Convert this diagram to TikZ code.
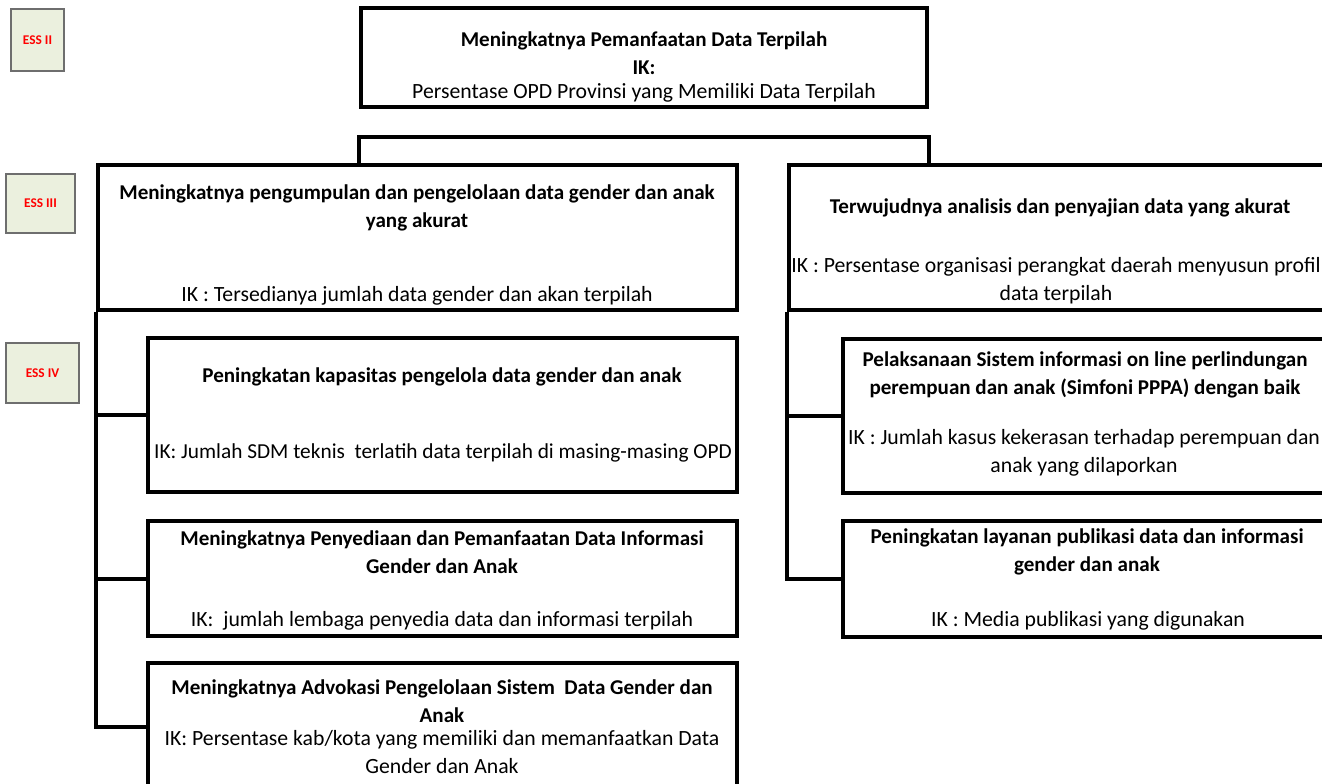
\documentclass[tikz,border=0pt]{standalone}
\usepackage{fontspec}
\setmainfont{Carlito}
\usetikzlibrary{fit}
\definecolor{esscol}{HTML}{EBF0DE}
\definecolor{essline}{HTML}{6E6E6E}
\begin{document}
\begin{tikzpicture}[x=0.75pt,y=-0.75pt,
  box/.style={draw=black, line width=3pt, inner sep=0pt},
  essbox/.style={draw=essline, fill=esscol, line width=1pt, inner sep=0pt, text=red, font=\bfseries\fontsize{10}{12}\selectfont},
  ttl/.style={font=\bfseries\fontsize{15.8}{21}\selectfont, align=center, inner sep=0pt},
  iktext/.style={font=\fontsize{16.3}{21}\selectfont, align=center, inner sep=0pt},
  conn/.style={draw=black, line width=3pt}]
\useasboundingbox (0,0) rectangle (1322,783);
\clip (0,0) rectangle (1322,783);
\fill[white] (0,0) rectangle (1322,783);

% ESS labels
\node[essbox, minimum width=39.75pt, minimum height=46.5pt] (ess2) at (37.5,40) {ESS II};
\node[essbox, minimum width=51.75pt, minimum height=44.25pt] (ess3) at (40.5,203.5) {ESS III};
\node[essbox, minimum width=54.75pt, minimum height=45pt] (ess4) at (42.5,373) {ESS IV};

% boxes
\node[box, fit={(361,8)(927,107)}] (top) {};
\node[box, fit={(98,165)(737,310)}] (L0) {};
\node[box, fit={(789,165)(1332,310)}] (R0) {};
\node[box, fit={(148,338)(737,492)}] (C1) {};
\node[box, fit={(148,521)(737,636)}] (C2) {};
\node[box, fit={(148,663)(737,790)}] (C3) {};
\node[box, fit={(843,339)(1332,493)}] (R1) {};
\node[box, fit={(843,521)(1332,637)}] (R2) {};

% connectors
\coordinate (bk) at (644,137);
\draw[conn] (top.south west |- L0.north) |- (bk) -| (top.south east |- R0.north);
\draw[conn] (L0.south west) |- (C3.west);
\draw[conn] (L0.south west |- C1.west) -- (C1.west);
\draw[conn] (L0.south west |- C2.west) -- (C2.west);
\draw[conn] (R0.south west) |- (R2.west);
\draw[conn] (R0.south west |- R1.west) -- (R1.west);

% texts
\node[ttl] (topT) at (644,53) {Meningkatnya Pemanfaatan Data Terpilah\\IK:};
\node[iktext] (topI) at (644,93) {Persentase OPD Provinsi yang Memiliki Data Terpilah};

\node[ttl] (L0T) at (417,208) {Meningkatnya pengumpulan dan pengelolaan data gender dan anak\\yang akurat};
\node[iktext] (L0I) at (417,296) {IK : Tersedianya jumlah data gender dan akan terpilah};

\node[ttl] (R0T) at (1060,208) {Terwujudnya analisis dan penyajian data yang akurat};
\node[iktext] (R0I) at (1056,281) {IK : Persentase organisasi perangkat daerah menyusun profil\\data terpilah};

\node[ttl] (C1T) at (442,377) {Peningkatan kapasitas pengelola data gender dan anak};
\node[iktext, font=\fontsize{16}{21}\selectfont] (C1I) at (443,453) {IK: Jumlah SDM teknis\ \ terlatih data terpilah di masing-masing OPD};

\node[ttl] (C2T) at (442,552) {Meningkatnya Penyediaan dan Pemanfaatan Data Informasi\\Gender dan Anak};
\node[iktext] (C2I) at (442,621) {IK:\ \ jumlah lembaga penyedia data dan informasi terpilah};

\node[ttl] (C3T) at (442,701.5) {Meningkatnya Advokasi Pengelolaan Sistem\ \ Data Gender dan\\Anak};
\node[iktext] (C3I) at (442,752.5) {IK: Persentase kab/kota yang memiliki dan memanfaatkan Data\\Gender dan Anak};

\node[ttl] (R1T) at (1085,374.5) {Pelaksanaan Sistem informasi on line perlindungan\\perempuan dan anak (Simfoni PPPA) dengan baik};
\node[iktext] (R1I) at (1084,452.5) {IK : Jumlah kasus kekerasan terhadap perempuan dan\\anak yang dilaporkan};

\node[ttl] (R2T) at (1087,551.5) {Peningkatan layanan publikasi data dan informasi\\gender dan anak};
\node[iktext] (R2I) at (1088,621) {IK : Media publikasi yang digunakan};
\end{tikzpicture}
\end{document}
